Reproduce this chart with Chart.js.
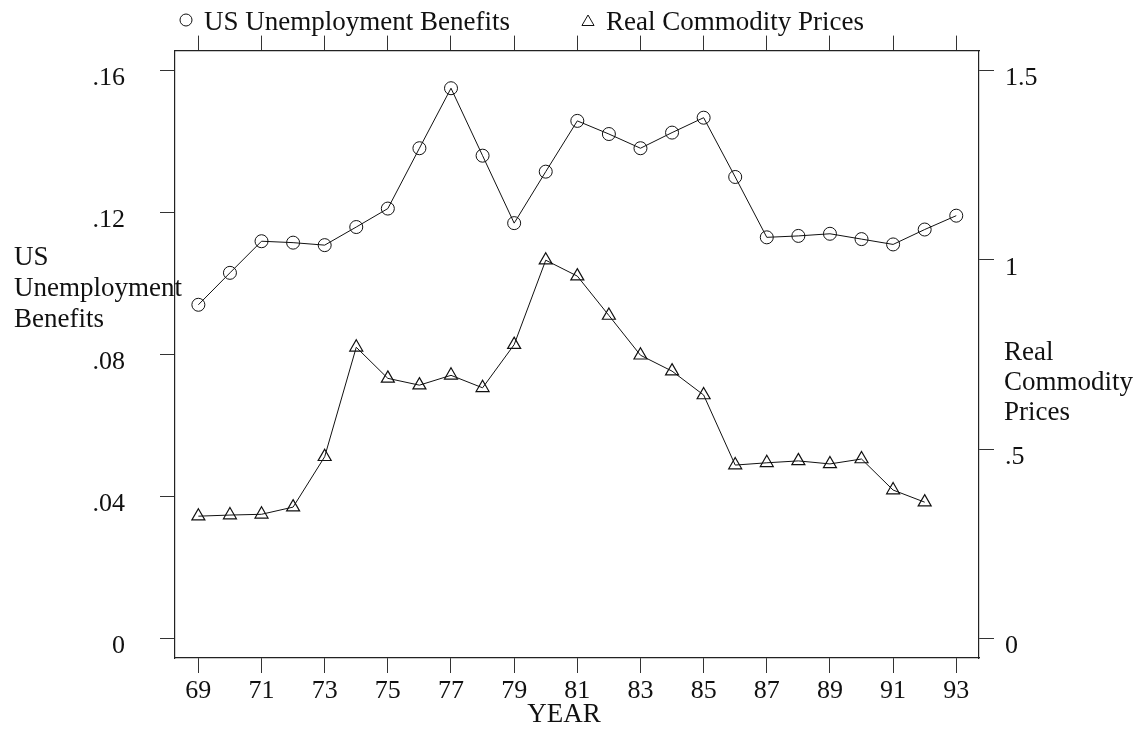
<!DOCTYPE html>
<html>
<head>
<meta charset="utf-8">
<script src="https://cdn.jsdelivr.net/npm/chart.js@4/dist/chart.umd.min.js"></script>
<style>
  html, body { margin: 0; padding: 0; background: #fff; }
  #wrap { width: 1140px; height: 729px; }
</style>
</head>
<body>
<div id="wrap"><canvas id="chart" width="1140" height="729"></canvas></div>
<script>
// years 1969-1993, shown as two digits
const years = [69, 70, 71, 72, 73, 74, 75, 76, 77, 78, 79, 80, 81,
  82, 83, 84, 85, 86, 87, 88, 89, 90, 91, 92, 93];

// left axis
const benefits = [0.0940, 0.1030, 0.1119, 0.1115, 0.1108, 0.1159, 0.1211,
  0.1381, 0.1550, 0.1360, 0.1170, 0.1315, 0.1458, 0.1421, 0.1381, 0.1425,
  0.1467, 0.1300, 0.1130, 0.1134, 0.1140, 0.1125, 0.1110, 0.1152, 0.1191];

// right axis, no value for 93
const commodity = [0.323, 0.326, 0.328, 0.347, 0.480, 0.769, 0.687, 0.669,
  0.695, 0.662, 0.776, 0.999, 0.957, 0.853, 0.748, 0.706, 0.643, 0.458,
  0.464, 0.469, 0.461, 0.474, 0.392, 0.360];

const yearTicks = [69, 71, 73, 75, 77, 79, 81, 83, 85, 87, 89, 91, 93];
const leftTicks = [0, 0.04, 0.08, 0.12, 0.16];
const rightTicks = [0, 0.5, 1, 1.5];

const FONT = 'Liberation Serif';
const INK = '#111';

function fmt(v) {
  if (v === 0) return '0';
  let s = String(+v.toFixed(2));
  return s.startsWith('0.') ? s.slice(1) : s;
}

function fixTicks(list) {
  return (scale) => { scale.ticks = list.map((v) => ({ value: v })); };
}

const gridOpts = {
  drawOnChartArea: false,
  drawTicks: true,
  tickLength: 15,
  color: '#333',
  lineWidth: 1,
};
const borderOpts = { display: true, color: '#222', width: 1.2 };
const tickFont = { family: FONT, size: 26 };

// legend, axis titles and YEAR drawn as free text like the original
const textPlugin = {
  id: 'freeText',
  afterDraw(chart) {
    const ctx = chart.ctx;
    ctx.save();
    ctx.fillStyle = INK;
    ctx.strokeStyle = INK;
    ctx.lineWidth = 1;
    ctx.font = `27px "${FONT}"`;
    ctx.textBaseline = 'alphabetic';
    ctx.textAlign = 'left';

    // legend
    ctx.beginPath();
    ctx.arc(186, 20, 6, 0, Math.PI * 2);
    ctx.stroke();
    ctx.fillText('US Unemployment Benefits', 204, 30);
    const tx = 588, ty = 22, r = 7;
    ctx.beginPath();
    ctx.moveTo(tx, ty - r);
    ctx.lineTo(tx + r * 0.866, ty + r / 2);
    ctx.lineTo(tx - r * 0.866, ty + r / 2);
    ctx.closePath();
    ctx.stroke();
    ctx.fillText('Real Commodity Prices', 606, 30);

    // left axis title
    ['US', 'Unemployment', 'Benefits'].forEach((t, i) => {
      ctx.fillText(t, 14, 265 + i * 31);
    });
    // right axis title
    ['Real', 'Commodity', 'Prices'].forEach((t, i) => {
      ctx.fillText(t, 1004, 360 + i * 30);
    });
    // x title
    ctx.textAlign = 'center';
    ctx.fillText('YEAR', 564, 722);
    ctx.restore();
  },
};

new Chart(document.getElementById('chart'), {
  type: 'line',
  data: {
    datasets: [
      {
        label: 'US Unemployment Benefits',
        data: benefits.map((v, i) => ({ x: years[i], y: v })),
        yAxisID: 'y',
        xAxisID: 'x',
        borderColor: INK,
        borderWidth: 1,
        pointStyle: 'circle',
        pointRadius: 6.5,
        pointBorderWidth: 1,
        pointBorderColor: INK,
        pointBackgroundColor: 'rgba(0,0,0,0)',
        tension: 0,
        fill: false,
      },
      {
        label: 'Real Commodity Prices',
        data: commodity.map((v, i) => ({ x: years[i], y: v })),
        yAxisID: 'y2',
        xAxisID: 'x',
        borderColor: INK,
        borderWidth: 1,
        pointStyle: 'triangle',
        pointRadius: 7.5,
        pointBorderWidth: 1.2,
        pointBorderColor: INK,
        pointBackgroundColor: 'rgba(0,0,0,0)',
        tension: 0,
        fill: false,
      },
    ],
  },
  options: {
    responsive: false,
    animation: false,
    events: [],
    layout: { padding: 0 },
    plugins: {
      legend: { display: false },
      tooltip: { enabled: false },
    },
    scales: {
      x: {
        type: 'linear',
        position: 'bottom',
        min: 68.26,
        max: 93.72,
        afterBuildTicks: fixTicks(yearTicks),
        afterFit: (s) => { s.height = 71; },
        grid: gridOpts,
        border: borderOpts,
        ticks: { font: tickFont, color: INK, padding: 3, maxRotation: 0, callback: (v) => String(v) },
      },
      x2: {
        type: 'linear',
        position: 'top',
        min: 68.26,
        max: 93.72,
        afterBuildTicks: fixTicks(yearTicks),
        afterFit: (s) => { s.height = 47; },
        grid: gridOpts,
        border: borderOpts,
        ticks: { display: false },
      },
      y: {
        type: 'linear',
        position: 'left',
        min: -0.0055,
        max: 0.1656,
        afterBuildTicks: fixTicks(leftTicks),
        afterFit: (s) => { s.width = 175; },
        grid: gridOpts,
        border: borderOpts,
        ticks: { font: tickFont, color: INK, padding: 35, labelOffset: 8, callback: fmt },
      },
      y2: {
        type: 'linear',
        position: 'right',
        min: -0.0515,
        max: 1.5525,
        afterBuildTicks: fixTicks(rightTicks),
        afterFit: (s) => { s.width = 161; },
        grid: gridOpts,
        border: borderOpts,
        ticks: { font: tickFont, color: INK, padding: 11, labelOffset: 8, callback: fmt },
      },
    },
  },
  plugins: [textPlugin],
});
</script>
</body>
</html>
